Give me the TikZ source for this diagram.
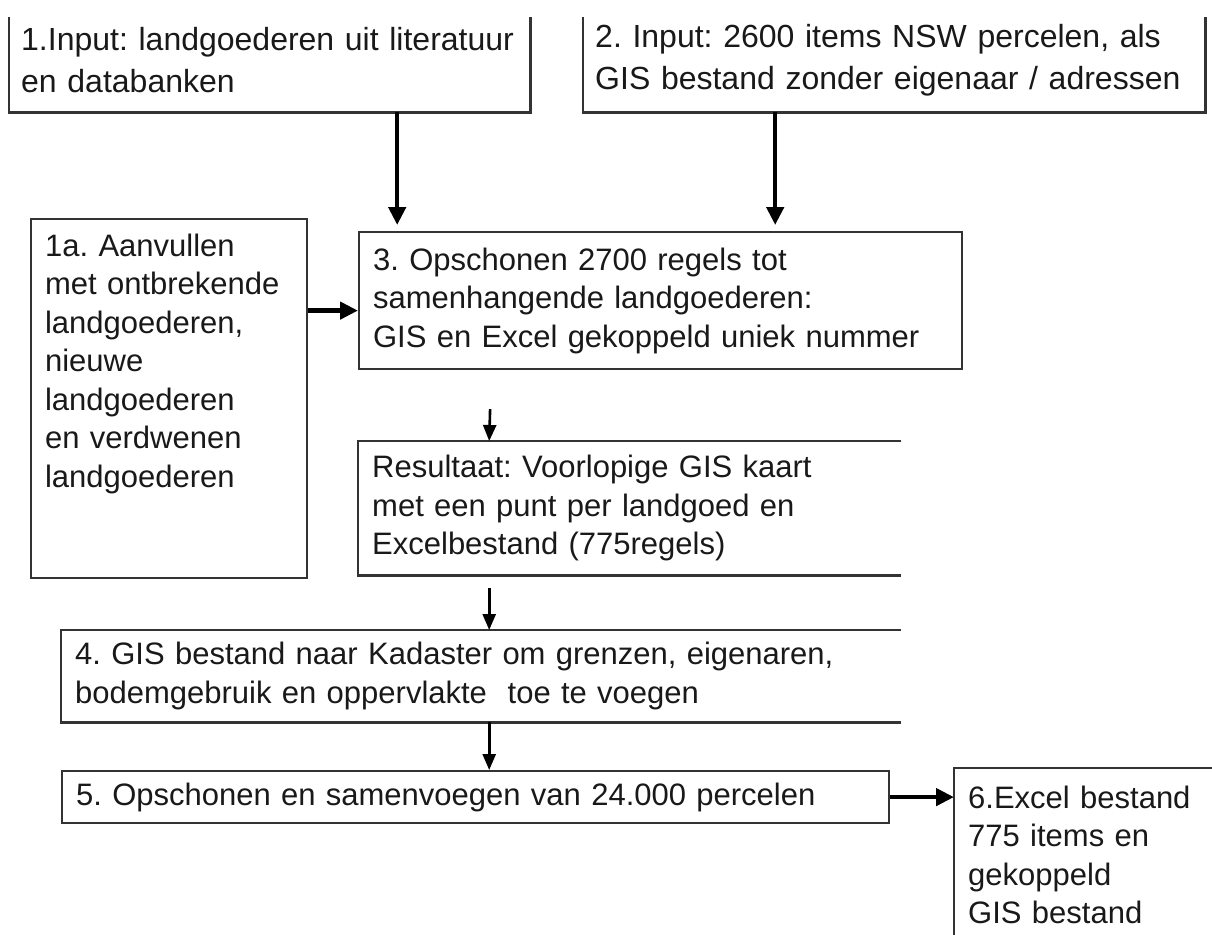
\documentclass[tikz,border=0pt]{standalone}
\usepackage{fontspec}
\setmainfont{Liberation Sans}
\usetikzlibrary{arrows.meta}
\frenchspacing

\begin{document}
\begin{tikzpicture}[x=1pt,y=-1pt,
  stap/.style={anchor=north west,inner xsep=14pt,inner ysep=0pt,align=left,
    text=black!90,font=\fontsize{31}{38.5}\selectfont},
  groot/.style={font=\fontsize{32}{42}\selectfont,inner xsep=12pt},
  rand/.style={draw=black!80,line width=2.2pt},
  dikpijl/.style={-{Triangle[length=18pt,width=17pt]},line width=4.5pt},
  dunpijl/.style={-{Triangle[length=16pt,width=13pt]},line width=2.6pt}]
\useasboundingbox (0,0) rectangle (1212,934);
\fill[white] (0,0) rectangle (1212,934);

% Input boxes (top cut off)
\node[stap,groot,minimum height=104pt,text width=497pt] (invoer1) at (9,8)
  {1.Input: landgoederen uit literatuur\\en databanken};
\node[stap,groot,minimum height=104pt,text width=598pt] (invoer2) at (583,8)
  {2. Input: 2600 items NSW percelen, als\\GIS bestand zonder eigenaar / adressen};
\draw[rand] ([yshift=-9pt]invoer1.north west) -- (invoer1.south west) -- (invoer1.south east) -- ([yshift=-9pt]invoer1.north east);
\draw[rand] ([yshift=-9pt]invoer2.north west) -- (invoer2.south west) -- (invoer2.south east) -- ([yshift=-9pt]invoer2.north east);

% Aanvullen en opschonen
\node[stap,rand,text width=248pt,text height=37pt,text depth=322pt] (aanvul) at (30,218)
  {1a. Aanvullen\\met ontbrekende\\landgoederen,\\nieuwe\\landgoederen\\en verdwenen\\landgoederen};
\node[stap,rand,text width=575pt,minimum height=137pt] (opschonen) at (358,231)
  {3. Opschonen 2700 regels tot\\samenhangende landgoederen:\\GIS en Excel gekoppeld uniek nummer};
\draw[dikpijl,shorten >=6pt] ([xshift=127.5pt]invoer1.south) -- ([xshift=127.5pt]invoer1.south |- opschonen.north);
\draw[dikpijl,shorten >=6pt] ([xshift=-119pt]invoer2.south) -- ([xshift=-119pt]invoer2.south |- opschonen.north);
\draw[dikpijl] ([yshift=88pt]aanvul.east) -- ([yshift=88pt]aanvul.east -| opschonen.west);

% Resultaat (open right side)
\node[stap,text width=515pt,minimum height=134pt] (resultaat) at (358,441)
  {Resultaat: Voorlopige GIS kaart\\met een punt per landgoed en\\Excelbestand (775regels)};
\draw[rand] (resultaat.north east) -- (resultaat.north west) -- (resultaat.south west) -- (resultaat.south east);
\draw[dunpijl] ([xshift=-170.5pt,yshift=-39pt]opschonen.south) -- ([xshift=-140.5pt]resultaat.north);

% Kadaster
\node[stap,text width=812pt,minimum height=92pt] (kadaster) at (61,630)
  {4. GIS bestand naar Kadaster om grenzen, eigenaren,\\bodemgebruik en oppervlakte\ \ toe te voegen};
\draw[rand] (kadaster.north east) -- (kadaster.north west) -- (kadaster.south west) -- (kadaster.south east);
\draw[dunpijl] ([xshift=-140.5pt,yshift=-13pt]resultaat.south) -- ([xshift=-140.5pt]resultaat.south |- kadaster.north);

% Samenvoegen en eindresultaat
\node[stap,rand,text width=799pt,minimum height=52pt] (samenvoeg) at (61,770)
  {5. Opschonen en samenvoegen van 24.000 percelen};
\draw[dunpijl] ([xshift=8pt]kadaster.south) -- ([xshift=8pt]kadaster.south |- samenvoeg.north);
\node[stap,text width=230pt,text height=40pt,text depth=160pt] (excel) at (954,768)
  {6.Excel bestand\\775 items en\\gekoppeld\\GIS bestand};
\draw[rand] (excel.south west) -- (excel.north west) -- (excel.north east);
\draw[dikpijl] (samenvoeg.east) -- (samenvoeg.east -| excel.west);

\end{tikzpicture}
\end{document}
